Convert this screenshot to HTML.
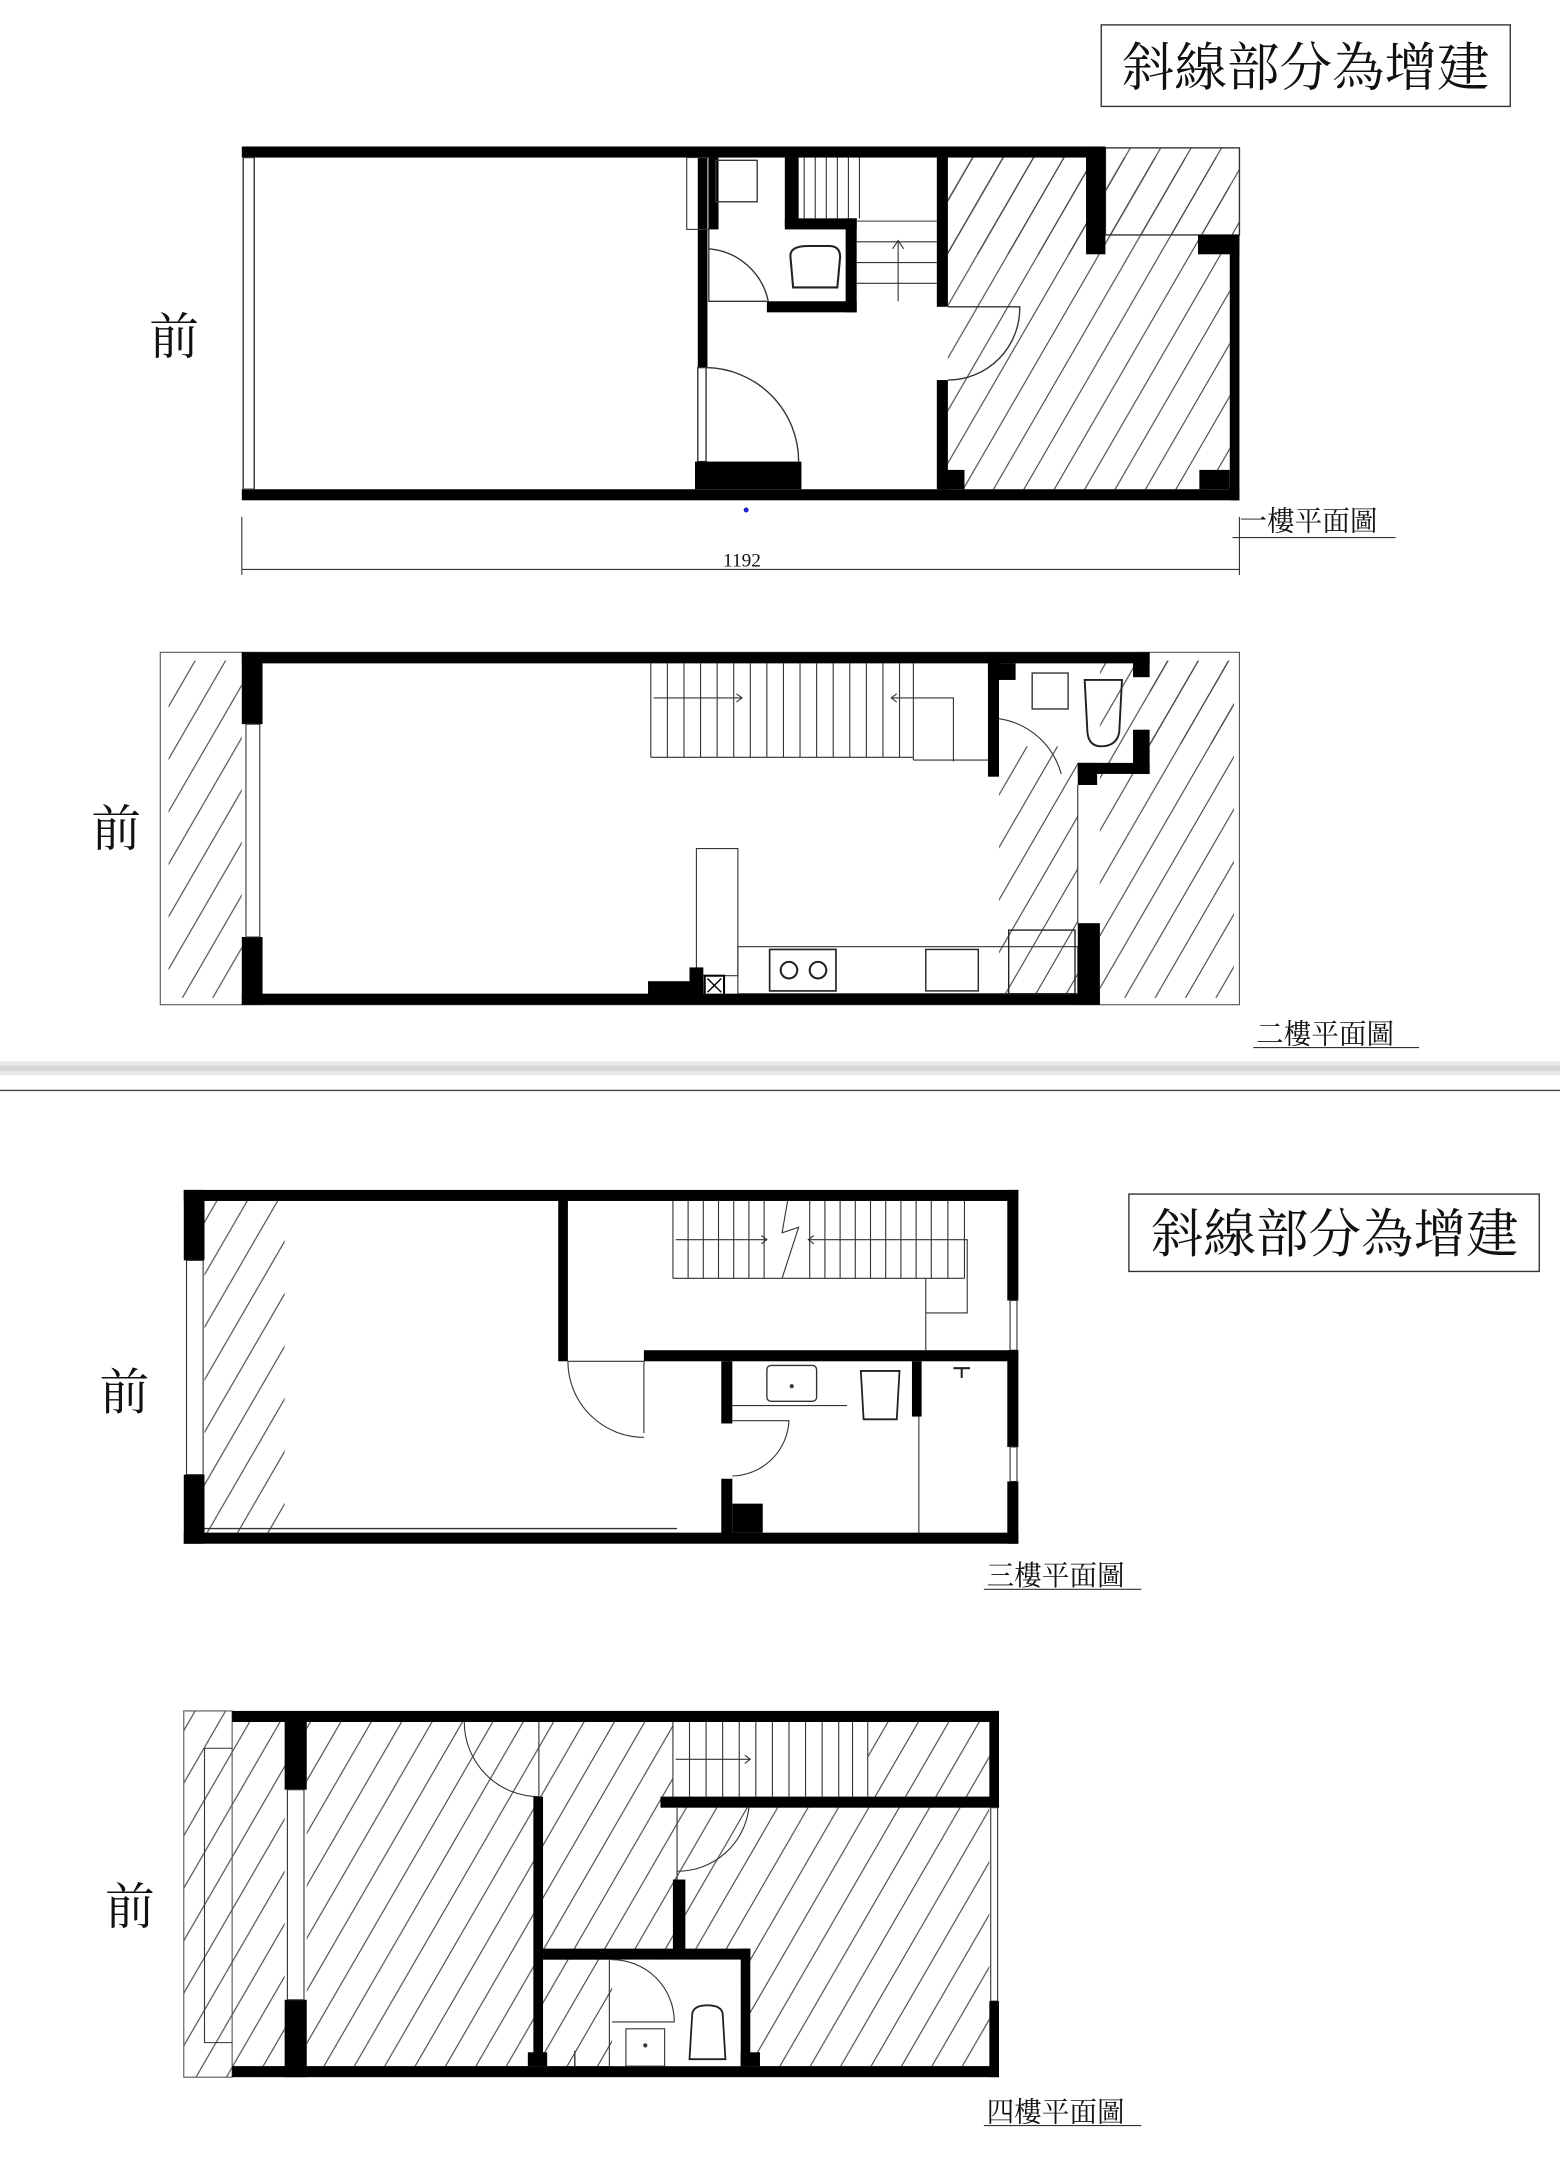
<!DOCTYPE html>
<html><head><meta charset="utf-8"><style>
html,body{margin:0;padding:0;background:#fff;}
svg{display:block;}
text{font-family:"Liberation Serif","Noto Serif CJK SC","Noto Sans CJK TC",serif;fill:#111;}
</style></head><body>
<svg width="1560" height="2167" viewBox="0 0 1129 1568" preserveAspectRatio="none" xmlns="http://www.w3.org/2000/svg">
<defs>
<pattern id="h" patternUnits="userSpaceOnUse" width="22" height="38">
<line x1="0" y1="38" x2="22" y2="0" stroke="#444" stroke-width="0.8"/>
<line x1="-11" y1="19" x2="11" y2="-19" stroke="#444" stroke-width="0.8"/>
<line x1="11" y1="57" x2="33" y2="19" stroke="#444" stroke-width="0.8"/>
</pattern>
</defs>
<rect width="1129" height="1568" fill="#fff"/>

<!-- label box 1 -->
<rect x="797" y="18" width="296" height="59" fill="none" stroke="#333" stroke-width="1"/>
<text x="945" y="62" font-size="38" text-anchor="middle">斜線部分為增建</text>

<!-- ============ FLOOR 1 ============ -->
<text x="108" y="256" font-size="36">前</text>
<rect x="686" y="114" width="204" height="240" fill="url(#h)"/>
<rect x="800" y="107" width="97" height="63" fill="url(#h)" stroke="#333" stroke-width="1"/>
<rect x="686" y="114" width="100" height="70" fill="url(#h)"/>
<rect x="175" y="106" width="625" height="8" fill="#000"/>
<rect x="175" y="354" width="722" height="8" fill="#000"/>
<rect x="176" y="114" width="8" height="240" fill="none" stroke="#333" stroke-width="1"/>
<rect x="505" y="114" width="7" height="152" fill="#000"/>
<rect x="505" y="266" width="6" height="68" fill="none" stroke="#333" stroke-width="1"/>
<rect x="503" y="334" width="77" height="20" fill="#000"/>
<path d="M511 266 A68 68 0 0 1 578 334" fill="none" stroke="#333" stroke-width="1"/>
<rect x="497" y="114" width="16" height="52" fill="none" stroke="#333" stroke-width="0.8"/>
<rect x="513" y="114" width="7" height="52" fill="#000"/>
<rect x="518" y="116" width="30" height="30" fill="none" stroke="#333" stroke-width="1"/>
<rect x="568" y="114" width="10" height="50" fill="#000"/>
<rect x="568" y="158" width="52" height="8" fill="#000"/>
<rect x="612" y="158" width="8" height="68" fill="#000"/>
<rect x="555" y="218" width="65" height="8" fill="#000"/>
<path d="M513 166 L513 218 L555 218" fill="none" stroke="#333" stroke-width="1"/>
<path d="M513 180 A48 48 0 0 1 556 218" fill="none" stroke="#333" stroke-width="1"/>
<path d="M572 185 Q572 178 585 178 L600 178 Q608 178 608 186 L606 208 L574 208 Z" fill="none" stroke="#222" stroke-width="1.5"/>
<g stroke="#333" stroke-width="0.8" fill="none">
<line x1="582" y1="114" x2="582" y2="158"/><line x1="590" y1="114" x2="590" y2="158"/><line x1="598" y1="114" x2="598" y2="158"/><line x1="606" y1="114" x2="606" y2="158"/><line x1="614" y1="114" x2="614" y2="158"/><line x1="622" y1="114" x2="622" y2="158"/>
<line x1="620" y1="160" x2="678" y2="160"/><line x1="620" y1="175" x2="678" y2="175"/><line x1="620" y1="190" x2="678" y2="190"/><line x1="620" y1="205" x2="678" y2="205"/>
<line x1="650" y1="175" x2="650" y2="218"/>
<path d="M646 180 L650 174 L654 180"/>
</g>
<rect x="678" y="114" width="8" height="108" fill="#000"/>
<rect x="678" y="275" width="8" height="79" fill="#000"/>
<rect x="680" y="340" width="18" height="14" fill="#000"/>
<path d="M686 222 L738 222 A52 52 0 0 1 686 275" fill="none" stroke="#333" stroke-width="1"/>
<rect x="786" y="106" width="14" height="78" fill="#000"/>
<rect x="867" y="170" width="30" height="14" fill="#000"/>
<rect x="890" y="170" width="7" height="192" fill="#000"/>
<rect x="868" y="340" width="22" height="14" fill="#000"/>
<circle cx="540" cy="369" r="1.8" fill="#22c"/>
<g stroke="#333" stroke-width="0.8">
<line x1="175" y1="374" x2="175" y2="416"/><line x1="897" y1="374" x2="897" y2="416"/>
<line x1="175" y1="412" x2="897" y2="412"/>
</g>
<text x="537" y="410" font-size="14" text-anchor="middle">1192</text>
<text x="897" y="384" font-size="20">一樓平面圖</text>
<line x1="892" y1="389" x2="1010" y2="389" stroke="#333" stroke-width="0.8"/>

<!-- ============ FLOOR 2 ============ -->
<text x="66" y="612" font-size="36">前</text>
<rect x="116" y="472" width="781" height="255" fill="none" stroke="#555" stroke-width="0.8"/>
<rect x="122" y="478" width="53" height="244" fill="url(#h)"/>
<rect x="796" y="478" width="97" height="244" fill="url(#h)"/>
<rect x="723" y="540" width="57" height="179" fill="url(#h)"/>
<rect x="832" y="478" width="61" height="60" fill="url(#h)"/>
<rect x="175" y="472" width="657" height="8" fill="#000"/>
<rect x="175" y="719" width="621" height="8" fill="#000"/>
<rect x="175" y="472" width="15" height="52" fill="#000"/>
<rect x="175" y="678" width="15" height="49" fill="#000"/>
<rect x="178" y="524" width="10" height="154" fill="none" stroke="#333" stroke-width="0.8"/>
<g stroke="#333" stroke-width="0.8" fill="none">
<line x1="471" y1="548" x2="661" y2="548"/>
<line x1="661" y1="548" x2="661" y2="550"/>
<line x1="661" y1="550" x2="715" y2="550"/>
<line x1="471" y1="480" x2="471" y2="548"/>
<line x1="483" y1="480" x2="483" y2="548"/><line x1="495" y1="480" x2="495" y2="548"/><line x1="507" y1="480" x2="507" y2="548"/><line x1="519" y1="480" x2="519" y2="548"/><line x1="531" y1="480" x2="531" y2="548"/><line x1="543" y1="480" x2="543" y2="548"/><line x1="555" y1="480" x2="555" y2="548"/><line x1="567" y1="480" x2="567" y2="548"/><line x1="579" y1="480" x2="579" y2="548"/><line x1="591" y1="480" x2="591" y2="548"/><line x1="603" y1="480" x2="603" y2="548"/><line x1="615" y1="480" x2="615" y2="548"/><line x1="627" y1="480" x2="627" y2="548"/><line x1="639" y1="480" x2="639" y2="548"/><line x1="651" y1="480" x2="651" y2="548"/><line x1="661" y1="480" x2="661" y2="548"/>
<line x1="473" y1="505" x2="537" y2="505"/><path d="M533 502 L537 505 L533 508"/>
<path d="M690 551 L690 505 L645 505"/><path d="M649 502 L645 505 L649 508"/>
</g>
<rect x="715" y="472" width="8" height="90" fill="#000"/>
<rect x="715" y="480" width="20" height="12" fill="#000"/>
<rect x="820" y="472" width="12" height="18" fill="#000"/>
<rect x="820" y="528" width="12" height="32" fill="#000"/>
<rect x="780" y="552" width="52" height="8" fill="#000"/>
<rect x="780" y="552" width="14" height="16" fill="#000"/>
<rect x="747" y="487" width="26" height="26" fill="none" stroke="#333" stroke-width="1"/>
<path d="M785 492 L812 492 L810 530 Q808 540 797 540 Q788 540 787 530 Z" fill="none" stroke="#222" stroke-width="1.4"/>
<path d="M723 520 A55 55 0 0 1 768 560" fill="none" stroke="#333" stroke-width="0.8"/>
<line x1="780" y1="568" x2="780" y2="668" stroke="#333" stroke-width="0.8"/>
<rect x="504" y="614" width="30" height="92" fill="none" stroke="#333" stroke-width="0.8"/>
<rect x="534" y="685" width="246" height="34" fill="none" stroke="#333" stroke-width="0.8"/>
<rect x="469" y="710" width="40" height="12" fill="#000"/>
<rect x="499" y="700" width="10" height="20" fill="#000"/>
<rect x="510" y="706" width="14" height="14" fill="none" stroke="#000" stroke-width="1.5"/>
<path d="M512 708 L522 718 M522 708 L512 718" stroke="#000" stroke-width="1"/>
<rect x="557" y="687" width="48" height="30" fill="none" stroke="#222" stroke-width="1.2"/>
<circle cx="571" cy="702" r="6" fill="none" stroke="#222" stroke-width="1.5"/>
<circle cx="592" cy="702" r="6" fill="none" stroke="#222" stroke-width="1.5"/>
<rect x="670" y="687" width="38" height="30" fill="none" stroke="#222" stroke-width="1"/>
<rect x="730" y="673" width="48" height="46" fill="none" stroke="#222" stroke-width="1"/>
<rect x="780" y="668" width="16" height="59" fill="#000"/>
<text x="909" y="755" font-size="20">二樓平面圖</text>
<line x1="907" y1="758" x2="1027" y2="758" stroke="#333" stroke-width="0.8"/>

<!-- separator -->
<rect x="0" y="768" width="1129" height="10" fill="#e8e8e8"/>
<rect x="0" y="771" width="1129" height="4" fill="#d6d6d6"/>
<line x1="0" y1="789" x2="1129" y2="789" stroke="#444" stroke-width="1"/>

<!-- ============ FLOOR 3 ============ -->
<rect x="817" y="864" width="297" height="56" fill="none" stroke="#333" stroke-width="1"/>
<text x="966" y="906" font-size="38" text-anchor="middle">斜線部分為增建</text>
<text x="72" y="1020" font-size="36">前</text>
<rect x="148" y="869" width="58" height="240" fill="url(#h)"/>
<rect x="133" y="861" width="604" height="8" fill="#000"/>
<rect x="133" y="1109" width="604" height="8" fill="#000"/>
<rect x="133" y="861" width="15" height="51" fill="#000"/>
<rect x="133" y="1067" width="15" height="50" fill="#000"/>
<rect x="135" y="912" width="12" height="155" fill="none" stroke="#333" stroke-width="0.8"/>
<line x1="148" y1="1106" x2="490" y2="1106" stroke="#333" stroke-width="1"/>
<rect x="404" y="869" width="7" height="116" fill="#000"/>
<path d="M411 985 L466 985 L466 1037" fill="none" stroke="#333" stroke-width="0.8"/>
<path d="M411 985 A55 55 0 0 0 466 1040" fill="none" stroke="#333" stroke-width="0.8"/>
<rect x="466" y="977" width="271" height="8" fill="#000"/>
<g stroke="#333" stroke-width="0.8" fill="none">
<line x1="487" y1="925" x2="698" y2="925"/>
<line x1="487" y1="869" x2="487" y2="925"/><line x1="498" y1="869" x2="498" y2="925"/><line x1="509" y1="869" x2="509" y2="925"/><line x1="520" y1="869" x2="520" y2="925"/><line x1="531" y1="869" x2="531" y2="925"/><line x1="542" y1="869" x2="542" y2="925"/><line x1="553" y1="869" x2="553" y2="925"/>
<line x1="586" y1="869" x2="586" y2="925"/><line x1="597" y1="869" x2="597" y2="925"/><line x1="608" y1="869" x2="608" y2="925"/><line x1="619" y1="869" x2="619" y2="925"/><line x1="630" y1="869" x2="630" y2="925"/><line x1="641" y1="869" x2="641" y2="925"/><line x1="652" y1="869" x2="652" y2="925"/><line x1="663" y1="869" x2="663" y2="925"/><line x1="674" y1="869" x2="674" y2="925"/><line x1="686" y1="869" x2="686" y2="925"/><line x1="698" y1="869" x2="698" y2="925"/>
<path d="M570 869 L566 892 L578 888 L566 925"/>
<line x1="489" y1="897" x2="555" y2="897"/><path d="M551 894 L555 897 L551 900"/>
<path d="M670 950 L700 950 L700 897 L585 897"/><path d="M589 894 L585 897 L589 900"/>
<line x1="670" y1="925" x2="670" y2="977"/>
</g>
<rect x="729" y="861" width="8" height="80" fill="#000"/>
<rect x="731" y="941" width="5" height="36" fill="none" stroke="#333" stroke-width="0.8"/>
<rect x="729" y="977" width="8" height="70" fill="#000"/>
<rect x="731" y="1047" width="5" height="25" fill="none" stroke="#333" stroke-width="0.8"/>
<rect x="729" y="1072" width="8" height="45" fill="#000"/>
<rect x="522" y="985" width="8" height="45" fill="#000"/>
<rect x="522" y="1070" width="8" height="40" fill="#000"/>
<rect x="530" y="1088" width="22" height="21" fill="#000"/>
<line x1="530" y1="1017" x2="613" y2="1017" stroke="#333" stroke-width="0.8"/>
<rect x="555" y="988" width="36" height="26" rx="3" fill="none" stroke="#333" stroke-width="1"/>
<circle cx="573" cy="1003" r="1.5" fill="#333"/>
<path d="M530 1068 A42 42 0 0 0 571 1028 L530 1028" fill="none" stroke="#333" stroke-width="0.8"/>
<path d="M623 992 L651 992 L649 1027 L625 1027 Z" fill="none" stroke="#222" stroke-width="1.3"/>
<rect x="660" y="985" width="7" height="40" fill="#000"/>
<line x1="665" y1="1025" x2="665" y2="1109" stroke="#333" stroke-width="0.8"/>
<path d="M690 990 L702 990 M696 990 L696 997" stroke="#222" stroke-width="1.5"/>
<text x="714" y="1147" font-size="20">三樓平面圖</text>
<line x1="712" y1="1150" x2="826" y2="1150" stroke="#333" stroke-width="0.8"/>

<!-- ============ FLOOR 4 ============ -->
<text x="76" y="1392" font-size="36">前</text>
<rect x="133" y="1238" width="73" height="265" fill="url(#h)"/>
<rect x="133" y="1238" width="35" height="265" fill="none" stroke="#555" stroke-width="0.8"/>
<path d="M168 1265 L148 1265 L148 1478 L168 1478" fill="none" stroke="#333" stroke-width="0.8"/>
<rect x="222" y="1246" width="494" height="249" fill="url(#h)"/>
<rect x="487" y="1246" width="141" height="54" fill="#fff"/>
<g stroke="#333" stroke-width="0.8" fill="none">
<line x1="487" y1="1246" x2="487" y2="1300"/><line x1="499" y1="1246" x2="499" y2="1300"/><line x1="511" y1="1246" x2="511" y2="1300"/><line x1="523" y1="1246" x2="523" y2="1300"/><line x1="535" y1="1246" x2="535" y2="1300"/><line x1="547" y1="1246" x2="547" y2="1300"/><line x1="559" y1="1246" x2="559" y2="1300"/><line x1="571" y1="1246" x2="571" y2="1300"/><line x1="583" y1="1246" x2="583" y2="1300"/><line x1="595" y1="1246" x2="595" y2="1300"/><line x1="607" y1="1246" x2="607" y2="1300"/><line x1="617" y1="1246" x2="617" y2="1300"/><line x1="628" y1="1246" x2="628" y2="1300"/>
<line x1="489" y1="1273" x2="543" y2="1273"/><path d="M539 1270 L543 1273 L539 1276"/>
<line x1="390" y1="1246" x2="390" y2="1300"/>
<path d="M336 1246 A54 54 0 0 0 390 1300"/>
</g>
<rect x="168" y="1238" width="555" height="8" fill="#000"/>
<rect x="168" y="1495" width="555" height="8" fill="#000"/>
<rect x="206" y="1246" width="16" height="49" fill="#000"/>
<rect x="206" y="1447" width="16" height="56" fill="#000"/>
<rect x="208" y="1295" width="12" height="152" fill="#fff" stroke="#333" stroke-width="0.8"/>
<rect x="478" y="1300" width="245" height="8" fill="#000"/>
<rect x="386" y="1300" width="7" height="195" fill="#000"/>
<rect x="487" y="1360" width="9" height="55" fill="#000"/>
<rect x="393" y="1410" width="150" height="8" fill="#000"/>
<rect x="536" y="1410" width="7" height="85" fill="#000"/>
<path d="M490 1308 L490 1360 M490 1354 A52 52 0 0 0 542 1308" fill="none" stroke="#333" stroke-width="0.8"/>
<rect x="443" y="1418" width="93" height="77" fill="#fff"/>
<line x1="441" y1="1418" x2="441" y2="1495" stroke="#333" stroke-width="0.8"/>
<path d="M443 1418 A45 45 0 0 1 488 1463 L443 1463" fill="none" stroke="#333" stroke-width="0.8"/>
<rect x="453" y="1468" width="28" height="27" fill="none" stroke="#333" stroke-width="0.8"/>
<circle cx="467" cy="1480" r="1.5" fill="#333"/>
<path d="M499 1490 L501 1457 Q502 1451 512 1451 Q522 1451 523 1457 L525 1490 Z" fill="none" stroke="#222" stroke-width="1.3"/>
<rect x="382" y="1485" width="14" height="10" fill="#000"/>
<rect x="536" y="1485" width="14" height="10" fill="#000"/>
<line x1="416" y1="1484" x2="416" y2="1495" stroke="#333" stroke-width="1"/>
<rect x="716" y="1238" width="7" height="70" fill="#000"/>
<rect x="717" y="1308" width="5" height="140" fill="none" stroke="#333" stroke-width="0.8"/>
<rect x="716" y="1448" width="7" height="55" fill="#000"/>
<text x="714" y="1535" font-size="20">四樓平面圖</text>
<line x1="712" y1="1538" x2="826" y2="1538" stroke="#333" stroke-width="0.8"/>
</svg>
</body></html>
